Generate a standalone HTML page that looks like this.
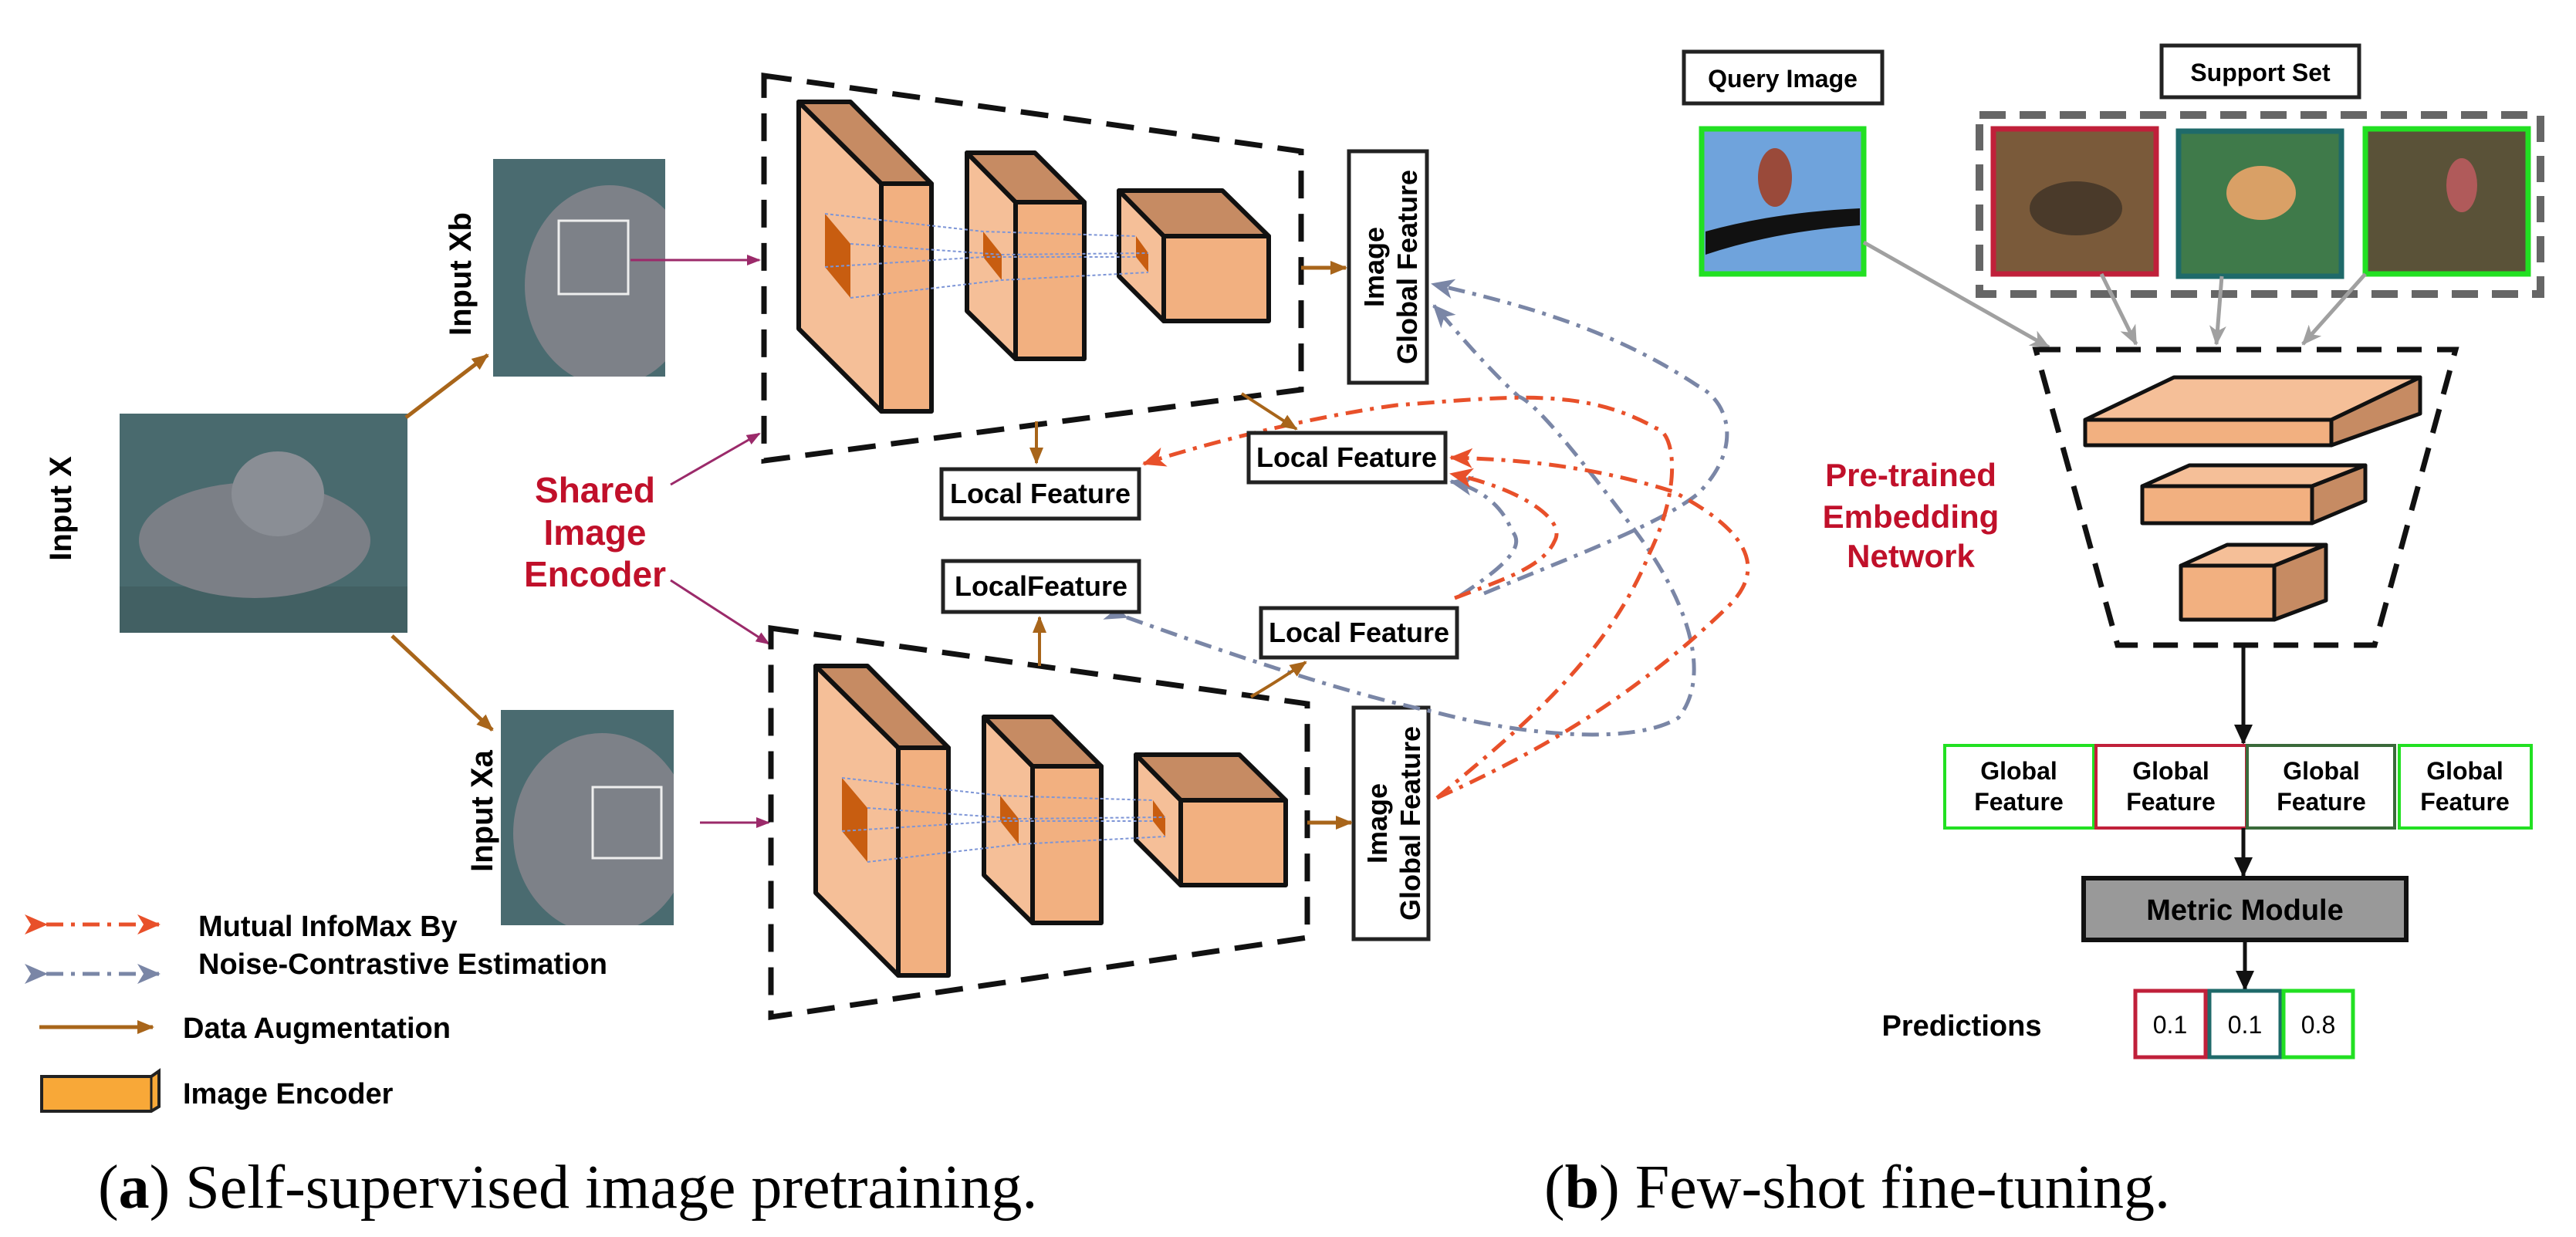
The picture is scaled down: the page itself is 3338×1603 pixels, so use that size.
<!DOCTYPE html>
<html><head><meta charset="utf-8"><style>
html,body{margin:0;padding:0;background:#fff;}
svg{display:block;}
text{font-family:"Liberation Sans",Arial,sans-serif;font-weight:bold;}
</style></head><body>
<svg width="3338" height="1603" viewBox="0 0 3338 1603" xmlns="http://www.w3.org/2000/svg">
<defs>
<clipPath id="cb"><rect x="639" y="206" width="223" height="282"/></clipPath>
<clipPath id="ca"><rect x="649" y="920" width="224" height="279"/></clipPath>
<marker id="aoB" markerWidth="22" markerHeight="22" refX="20" refY="11" orient="auto" markerUnits="userSpaceOnUse"><path d="M0,2 L22,11 L0,20 z" fill="#a8651a"/></marker>
<marker id="ap" markerWidth="18" markerHeight="18" refX="16" refY="9" orient="auto" markerUnits="userSpaceOnUse"><path d="M0,2 L18,9 L0,16 z" fill="#9b2a6a"/></marker>
<marker id="ar" markerWidth="30" markerHeight="26" refX="28" refY="13" orient="auto" markerUnits="userSpaceOnUse"><path d="M0,0 L30,13 L0,26 L8,13 z" fill="#e8502a"/></marker>
<marker id="ag" markerWidth="30" markerHeight="26" refX="28" refY="13" orient="auto" markerUnits="userSpaceOnUse"><path d="M0,0 L30,13 L0,26 L8,13 z" fill="#7a86a6"/></marker>
<marker id="agr" markerWidth="26" markerHeight="22" refX="24" refY="11" orient="auto" markerUnits="userSpaceOnUse"><path d="M0,0 L26,11 L0,22 L7,11 z" fill="#a0a0a0"/></marker>
<marker id="ak" markerWidth="26" markerHeight="24" refX="24" refY="12" orient="auto" markerUnits="userSpaceOnUse"><path d="M0,0 L26,12 L0,24 z" fill="#111"/></marker>
<g id="enc" stroke="#111" stroke-width="6" stroke-linejoin="round">
  <polygon points="1035,132 1142,238 1142,533 1035,426" fill="#f5bf98"/>
  <polygon points="1035,132 1102,132 1207,238 1142,238" fill="#c68b63"/>
  <rect x="1142" y="238" width="65" height="295" fill="#f2b080"/>
  <polygon points="1253,198 1316,262 1316,465 1253,403" fill="#f5bf98"/>
  <polygon points="1253,198 1341,198 1405,262 1316,262" fill="#c68b63"/>
  <rect x="1316" y="262" width="89" height="203" fill="#f2b080"/>
  <polygon points="1450,247 1508,306 1508,416 1450,358" fill="#f5bf98"/>
  <polygon points="1450,247 1584,247 1644,306 1508,306" fill="#c68b63"/>
  <rect x="1508" y="306" width="136" height="110" fill="#f2b080"/>
  <g stroke="none" fill="#c85d10">
    <polygon points="1069,277 1102,316 1102,386 1069,346"/>
    <polygon points="1274,300 1298,330 1298,363 1274,333"/>
    <polygon points="1472,306 1488,328 1488,353 1472,333"/>
  </g>
  <g stroke="#7d95d6" stroke-width="2" stroke-dasharray="4 3" fill="none">
    <path d="M1069,277 L1274,300 L1472,306"/>
    <path d="M1102,316 L1298,330 L1488,328"/>
    <path d="M1102,386 L1298,363 L1488,353"/>
    <path d="M1069,346 L1274,333 L1472,333"/>
  </g>
</g>
</defs>

<rect x="155" y="536" width="373" height="284" fill="#496a6e"/>
<rect x="155" y="760" width="373" height="60" fill="#3d5a5c" opacity="0.6"/>
<ellipse cx="330" cy="700" rx="150" ry="75" fill="#7b7f86"/>
<ellipse cx="360" cy="640" rx="60" ry="55" fill="#8a8e95"/>
<rect x="639" y="206" width="223" height="282" fill="#4a6b70"/>
<ellipse cx="790" cy="370" rx="110" ry="130" fill="#7d8188" clip-path="url(#cb)"/>
<rect x="724" y="286" width="90" height="95" fill="none" stroke="#eee" stroke-width="3"/>
<rect x="649" y="920" width="224" height="279" fill="#4a6b70"/>
<ellipse cx="780" cy="1080" rx="115" ry="130" fill="#7d8188" clip-path="url(#ca)"/>
<rect x="768" y="1020" width="89" height="92" fill="none" stroke="#eee" stroke-width="3"/>

<text transform="translate(92,659) rotate(-90)" font-size="40" text-anchor="middle">Input X</text>
<text transform="translate(610,355) rotate(-90)" font-size="40" text-anchor="middle">Input Xb</text>
<text transform="translate(638,1051) rotate(-90)" font-size="40" text-anchor="middle">Input Xa</text>

<line x1="526" y1="541" x2="632" y2="460" stroke="#a8651a" stroke-width="5" marker-end="url(#aoB)"/>
<line x1="508" y1="824" x2="638" y2="946" stroke="#a8651a" stroke-width="5" marker-end="url(#aoB)"/>

<line x1="817" y1="337" x2="984" y2="337" stroke="#9b2a6a" stroke-width="3" marker-end="url(#ap)"/>
<line x1="907" y1="1066" x2="996" y2="1066" stroke="#9b2a6a" stroke-width="3" marker-end="url(#ap)"/>
<line x1="869" y1="628" x2="984" y2="562" stroke="#9b2a6a" stroke-width="3" marker-end="url(#ap)"/>
<line x1="869" y1="752" x2="996" y2="834" stroke="#9b2a6a" stroke-width="3" marker-end="url(#ap)"/>

<g fill="#c0102a" font-size="46" text-anchor="middle">
<text x="771" y="651">Shared</text><text x="771" y="706">Image</text><text x="771" y="760">Encoder</text>
</g>

<polygon points="990,98 1686,196 1686,505 990,597" fill="none" stroke="#111" stroke-width="7" stroke-dasharray="36 20"/>
<polygon points="999,814 1694,912 1694,1215 999,1318" fill="none" stroke="#111" stroke-width="7" stroke-dasharray="36 20"/>
<use href="#enc"/>
<use href="#enc" transform="translate(22,731)"/>

<rect x="1748" y="196" width="101" height="300" fill="#fff" stroke="#222" stroke-width="5"/>
<text transform="translate(1793,346) rotate(-90)" font-size="36" text-anchor="middle">Image</text>
<text transform="translate(1836,346) rotate(-90)" font-size="36" text-anchor="middle">Global Feature</text>
<rect x="1754" y="917" width="97" height="300" fill="#fff" stroke="#222" stroke-width="5"/>
<text transform="translate(1797,1067) rotate(-90)" font-size="36" text-anchor="middle">Image</text>
<text transform="translate(1840,1067) rotate(-90)" font-size="36" text-anchor="middle">Global Feature</text>
<line x1="1686" y1="347" x2="1744" y2="347" stroke="#a8651a" stroke-width="5" marker-end="url(#aoB)"/>
<line x1="1694" y1="1066" x2="1751" y2="1066" stroke="#a8651a" stroke-width="5" marker-end="url(#aoB)"/>

<g fill="none" stroke-width="5" stroke-dasharray="22 10 5 10">
<path d="M1460,800 C1600,850 1750,900 1856,922 C1980,955 2120,965 2175,930 C2215,880 2195,790 2119,688 C2060,610 1990,520 1968,514 C1920,470 1880,420 1858,396" stroke="#7a86a6" marker-end="url(#ag)" marker-start="url(#ag)"/>
<path d="M1923,769 C2040,720 2150,680 2200,640 C2260,580 2240,520 2200,500 C2080,420 1950,390 1856,368" stroke="#7a86a6" marker-end="url(#ag)"/>
<path d="M1892,772 C1940,740 1980,710 1959,688 C1945,650 1910,630 1880,624" stroke="#7a86a6" marker-end="url(#ag)"/>
<path d="M1862,1034 C1950,960 2080,860 2137,718 C2180,630 2170,560 2146,555 C2050,500 1950,515 1810,525 C1700,540 1560,575 1482,601" stroke="#e8502a" marker-end="url(#ar)"/>
<path d="M1862,1034 C1960,990 2100,920 2235,790 C2290,740 2270,690 2168,637 C2050,600 1950,595 1880,593" stroke="#e8502a" marker-end="url(#ar)"/>
<path d="M1885,775 C1950,750 2000,735 2015,700 C2030,670 1960,630 1880,614" stroke="#e8502a" marker-end="url(#ar)"/>
</g>

<g font-size="36" text-anchor="middle">
<rect x="1220" y="608" width="256" height="64" fill="#fff" stroke="#222" stroke-width="5"/><text x="1348" y="652">Local Feature</text>
<rect x="1618" y="561" width="255" height="64" fill="#fff" stroke="#222" stroke-width="5"/><text x="1745" y="605">Local Feature</text>
<rect x="1222" y="727" width="254" height="66" fill="#fff" stroke="#222" stroke-width="5"/><text x="1349" y="772">LocalFeature</text>
<rect x="1634" y="788" width="254" height="64" fill="#fff" stroke="#222" stroke-width="5"/><text x="1761" y="832">Local Feature</text>
</g>
<line x1="1343" y1="546" x2="1343" y2="600" stroke="#a8651a" stroke-width="4" marker-end="url(#aoB)"/>
<line x1="1609" y1="510" x2="1680" y2="556" stroke="#a8651a" stroke-width="4" marker-end="url(#aoB)"/>
<line x1="1347" y1="863" x2="1347" y2="800" stroke="#a8651a" stroke-width="4" marker-end="url(#aoB)"/>
<path d="M1621,903 Q1660,880 1692,858" fill="none" stroke="#a8651a" stroke-width="4" marker-end="url(#aoB)"/>

<line x1="60" y1="1198" x2="206" y2="1198" stroke="#e8502a" stroke-width="5" stroke-dasharray="22 10 5 10" marker-end="url(#ar)" marker-start="url(#ar)"/>
<line x1="60" y1="1262" x2="206" y2="1262" stroke="#7a86a6" stroke-width="5" stroke-dasharray="22 10 5 10" marker-end="url(#ag)" marker-start="url(#ag)"/>
<line x1="51" y1="1331" x2="198" y2="1331" stroke="#a8651a" stroke-width="5" marker-end="url(#aoB)"/>
<polygon points="54,1395 196,1395 206,1388 206,1434 196,1440 54,1440" fill="#f8a838" stroke="#222" stroke-width="4"/>
<line x1="196" y1="1395" x2="196" y2="1440" stroke="#222" stroke-width="3"/>
<g font-size="38">
<text x="257" y="1213">Mutual InfoMax By</text>
<text x="257" y="1262">Noise-Contrastive Estimation</text>
<text x="237" y="1345">Data Augmentation</text>
<text x="237" y="1430">Image Encoder</text>
</g>

<text x="127" y="1565" style="font-family:'Liberation Serif',serif;font-weight:normal" font-size="80">(<tspan style="font-weight:bold">a</tspan>) Self-supervised image pretraining.</text>
<text x="2001" y="1565" style="font-family:'Liberation Serif',serif;font-weight:normal" font-size="80">(<tspan style="font-weight:bold">b</tspan>) Few-shot fine-tuning.</text>

<rect x="2182" y="67" width="257" height="67" fill="#fff" stroke="#222" stroke-width="5"/>
<text x="2310" y="113" font-size="32" text-anchor="middle">Query Image</text>
<rect x="2801" y="59" width="256" height="67" fill="#fff" stroke="#222" stroke-width="5"/>
<text x="2929" y="105" font-size="32" text-anchor="middle">Support Set</text>

<rect x="2205" y="167" width="210" height="188" fill="#6fa3dc" stroke="#22e022" stroke-width="7"/>
<path d="M2210,300 Q2300,275 2410,270 L2410,292 Q2300,300 2210,330 z" fill="#111"/>
<ellipse cx="2300" cy="230" rx="22" ry="38" fill="#9a4a3a"/>

<rect x="2565" y="149" width="727" height="232" fill="none" stroke="#666" stroke-width="10" stroke-dasharray="34 18"/>
<rect x="2583" y="167" width="211" height="188" fill="#7a5a3a" stroke="#c0203a" stroke-width="7"/>
<ellipse cx="2690" cy="270" rx="60" ry="35" fill="#4a3a2a"/>
<rect x="2823" y="170" width="211" height="188" fill="#3f7a4a" stroke="#1f6a6a" stroke-width="7"/>
<ellipse cx="2930" cy="250" rx="45" ry="35" fill="#d9a066"/>
<rect x="3065" y="167" width="211" height="188" fill="#5a5238" stroke="#22e022" stroke-width="7"/>
<ellipse cx="3190" cy="240" rx="20" ry="35" fill="#b05a5a"/>

<g stroke="#a0a0a0" stroke-width="5" fill="none">
<line x1="2415" y1="314" x2="2655" y2="450" marker-end="url(#agr)"/>
<line x1="2723" y1="355" x2="2768" y2="446" marker-end="url(#agr)"/>
<line x1="2879" y1="358" x2="2872" y2="446" marker-end="url(#agr)"/>
<line x1="3065" y1="355" x2="2984" y2="446" marker-end="url(#agr)"/>
</g>

<polygon points="2638,453 3182,453 3077,836 2744,836" fill="none" stroke="#111" stroke-width="7" stroke-dasharray="32 20"/>
<g stroke="#111" stroke-width="5" stroke-linejoin="round">
<polygon points="2702,544 2817,489 3136,489 3021,544" fill="#f5bf98"/>
<rect x="2702" y="544" width="319" height="33" fill="#f2b080"/>
<polygon points="3021,544 3136,489 3136,536 3021,577" fill="#c68b63"/>
<polygon points="2776,630 2837,603 3065,603 2996,630" fill="#f5bf98"/>
<rect x="2776" y="630" width="220" height="48" fill="#f2b080"/>
<polygon points="2996,630 3065,603 3065,649 2996,678" fill="#c68b63"/>
<polygon points="2826,733 2886,706 3014,706 2947,733" fill="#f5bf98"/>
<rect x="2826" y="733" width="121" height="70" fill="#f2b080"/>
<polygon points="2947,733 3014,706 3014,778 2947,803" fill="#c68b63"/>
</g>
<g fill="#c0102a" font-size="42" text-anchor="middle">
<text x="2476" y="630">Pre-trained</text><text x="2476" y="684">Embedding</text><text x="2476" y="735">Network</text>
</g>

<line x1="2907" y1="836" x2="2907" y2="963" stroke="#111" stroke-width="5" marker-end="url(#ak)"/>
<g font-size="32" text-anchor="middle">
<rect x="2520" y="966" width="193" height="107" fill="#fff" stroke="#22e022" stroke-width="4"/>
<text x="2616" y="1010">Global</text><text x="2616" y="1050">Feature</text>
<rect x="2716" y="966" width="195" height="107" fill="#fff" stroke="#c0203a" stroke-width="4"/>
<text x="2813" y="1010">Global</text><text x="2813" y="1050">Feature</text>
<rect x="2912" y="966" width="191" height="107" fill="#fff" stroke="#3a6a3a" stroke-width="4"/>
<text x="3008" y="1010">Global</text><text x="3008" y="1050">Feature</text>
<rect x="3109" y="966" width="171" height="107" fill="#fff" stroke="#22e022" stroke-width="4"/>
<text x="3194" y="1010">Global</text><text x="3194" y="1050">Feature</text>
</g>
<line x1="2907" y1="1073" x2="2907" y2="1135" stroke="#111" stroke-width="5" marker-end="url(#ak)"/>
<rect x="2700" y="1138" width="418" height="80" fill="#999" stroke="#111" stroke-width="6"/>
<text x="2909" y="1192" font-size="38" text-anchor="middle">Metric Module</text>
<line x1="2909" y1="1218" x2="2909" y2="1282" stroke="#111" stroke-width="5" marker-end="url(#ak)"/>
<text x="2542" y="1342" font-size="38" text-anchor="middle">Predictions</text>
<g font-size="32" text-anchor="middle">
<rect x="2767" y="1284" width="91" height="86" fill="#fff" stroke="#c0203a" stroke-width="5"/><text x="2812" y="1339" style="font-weight:normal">0.1</text>
<rect x="2863" y="1284" width="92" height="86" fill="#fff" stroke="#1f6a6a" stroke-width="5"/><text x="2909" y="1339" style="font-weight:normal">0.1</text>
<rect x="2959" y="1284" width="90" height="86" fill="#fff" stroke="#22e022" stroke-width="5"/><text x="3004" y="1339" style="font-weight:normal">0.8</text>
</g>
</svg>
</body></html>
